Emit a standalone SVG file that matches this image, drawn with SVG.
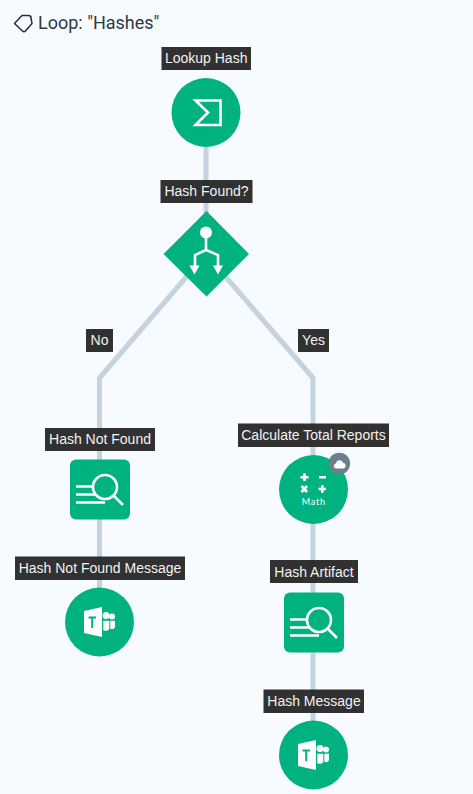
<svg xmlns="http://www.w3.org/2000/svg" width="473" height="794" viewBox="0 0 473 794">
<style>
.bg{fill:#f7fbff}
.c{fill:none;stroke:#c3d3e0;stroke-width:5;stroke-linejoin:round}
.n{fill:#00b280}
.lb{fill:#212121;fill-opacity:.93}
.lt{font:14px "Liberation Sans",Arial,sans-serif;fill:#f2f2f2;text-anchor:middle}
.w{fill:none;stroke:#fff;stroke-width:2.6}
.f{fill:#fff}
</style>
<defs>
<g id="teams">
<path class="f" d="M-15.500-11L2.500-15V15L-15.500 11Z"/>
<circle class="f" cx="6.500" cy="-6.500" r="3.500"/>
<circle class="f" cx="12.500" cy="-5.500" r="3"/>
<path class="f" d="M3.800-1.300H9.800V6C9.800 8 8 9 6 8.800C5 8.700 3.800 8.300 3.800 8Z"/>
<path class="f" d="M10.800-1.300H15.500V4.500C15.500 6.500 13.500 7.500 10.800 7Z"/>
<path d="M-11-5.500H-3.500V-3.500H-6.300V6H-8.300V-3.500H-11Z" fill="#00b280"/>
</g>
<g id="search">
<circle class="w" cx="35" cy="27.500" r="12"/>
<path class="w" d="M43.500 36L53 45.500M6 27H23M6 35H25M6 43H35" stroke-width="2.400"/>
</g>
</defs>
<rect class="bg" width="473" height="794"/>
<g id="title">
<path d="M14.500 23.500L22 15.500H28.500C30 15.500 31 16.500 31 18L32 23.500L25.500 31C24.500 32 23.500 32 22.500 31Z" fill="none" stroke="#22303c" stroke-width="1.500" stroke-linejoin="round"/>
<text x="38" y="28.500" font-family="Roboto,'Liberation Sans',sans-serif" font-size="18" fill="#2b3a47">Loop: "Hashes"</text>
</g>
<g id="connectors">
<path class="c" d="M206 112V254"/>
<path class="c" d="M206 254L99.500 378V622"/>
<path class="c" d="M206 254L313 378V755"/>
</g>
<g id="lookup-hash">
<circle class="n" cx="206" cy="112.500" r="34.500"/>
<path class="w" d="M220.500 100.500H195.500L208 112.500L195.500 125H220.500Z" stroke-width="3"/>
<rect class="lb" x="161.500" y="47" width="89.500" height="23"/><text class="lt" x="206.200" y="63">Lookup Hash</text>
</g>
<g id="hash-found">
<path class="n" d="M206.500 211L249 254L206.500 296.500L163.500 254Z"/>
<circle class="f" cx="206" cy="232.500" r="6"/>
<path class="w" d="M206 238V250M206 250L195 255V267M206 250L218 255V267" stroke-width="3"/>
<path class="f" d="M189.500 265.500H199.500L194.500 274.500ZM213 265.500H223L218 274.500Z"/>
<rect class="lb" x="160.500" y="180" width="92" height="23"/><text class="lt" x="206.500" y="196">Hash Found?</text>
</g>
<g id="no"><rect class="lb" x="86" y="329" width="27" height="23"/><text class="lt" x="99.500" y="345">No</text></g>
<g id="yes"><rect class="lb" x="298" y="329" width="31" height="23"/><text class="lt" x="313.500" y="345">Yes</text></g>
<g id="hash-not-found">
<rect class="n" x="70" y="459.500" width="60" height="60" rx="6"/>
<use href="#search" x="70" y="459.500"/>
<rect class="lb" x="45" y="428" width="110" height="23"/><text class="lt" x="100" y="444">Hash Not Found</text>
</g>
<g id="calculate-total-reports">
<circle class="n" cx="313.500" cy="489.500" r="34.500"/>
<path class="w" d="M304.500 473.500V481M300.500 477.300H308.500M319 477.300H326M301.500 486L307 492M307 486L301.500 492M318.500 489H326M322.300 485.200V492.800" stroke-width="2"/>
<text x="313.700" y="505" font-family="Lato,'Liberation Sans',sans-serif" font-size="9" letter-spacing=".8" fill="#fff" text-anchor="middle">Math</text>
<circle cx="339.300" cy="463.500" r="10.800" fill="#6b7f8f"/>
<path class="f" d="M336.500 468.500C333 468.500 333 463.800 336 463.500C336.500 459.500 342 459 343.200 463C346.500 463 346.500 468.500 343 468.500Z"/>
<rect class="lb" x="238" y="423.500" width="151" height="23.500"/><text class="lt" x="313.500" y="440">Calculate Total Reports</text>
</g>
<g id="hash-not-found-message">
<circle class="n" cx="99.500" cy="622" r="34.500"/>
<use href="#teams" x="99.500" y="622"/>
<rect class="lb" x="15" y="556.500" width="170" height="23.500"/><text class="lt" x="100" y="573">Hash Not Found Message</text>
</g>
<g id="hash-artifact">
<rect class="n" x="284" y="592.500" width="60" height="60" rx="6"/>
<use href="#search" x="284" y="592.500"/>
<rect class="lb" x="270" y="560" width="88" height="23"/><text class="lt" x="314" y="576.500">Hash Artifact</text>
</g>
<g id="hash-message">
<circle class="n" cx="313.500" cy="755" r="34.500"/>
<use href="#teams" x="313.500" y="755"/>
<rect class="lb" x="263.500" y="689.500" width="100.500" height="23.500"/><text class="lt" x="314" y="706">Hash Message</text>
</g>
</svg>
